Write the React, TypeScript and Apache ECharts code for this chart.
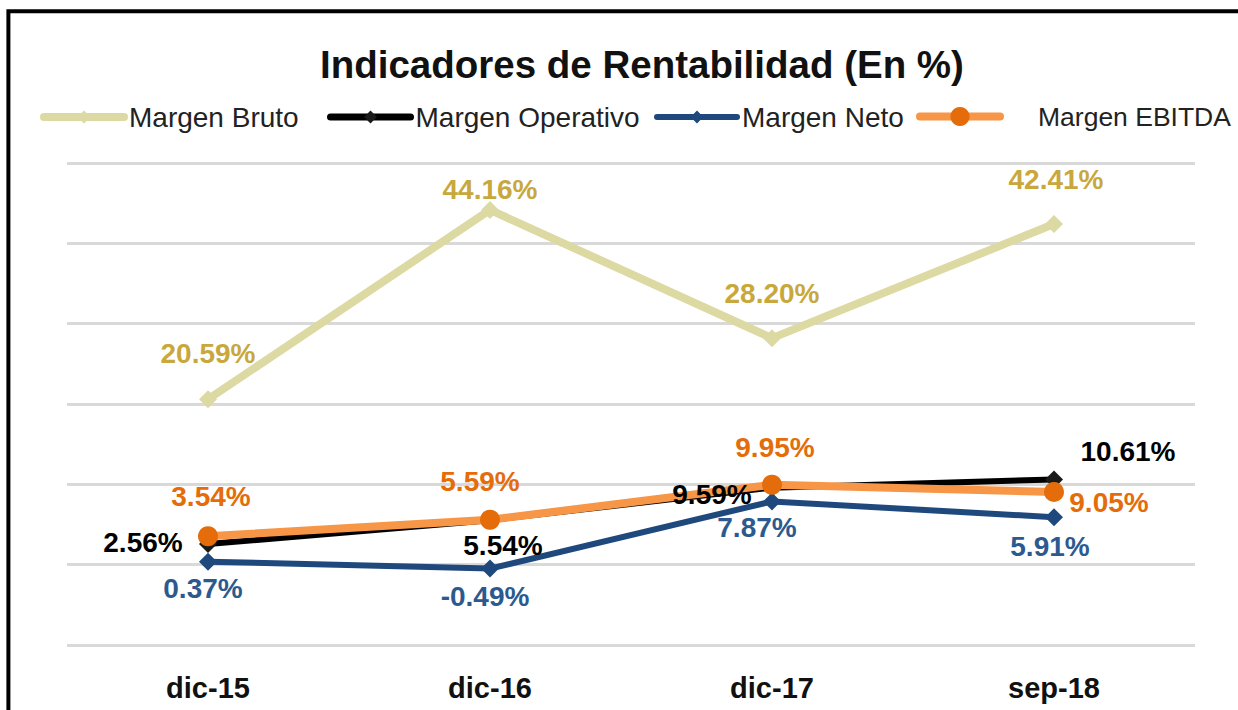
import React, { useEffect, useRef } from "react";
import * as echarts from "echarts";

const categories = ["dic-15", "dic-16", "dic-17", "sep-18"];
const margenBruto = [20.59, 44.16, 28.2, 42.41];
const margenOperativo = [2.56, 5.54, 9.59, 10.61];
const margenNeto = [0.37, -0.49, 7.87, 5.91];
const margenEbitda = [3.54, 5.59, 9.95, 9.05];

const brutoOffsets = [[0, -46], [0, -20], [0, -45], [2, -44]];
const operativoOffsets = [[-65, -2], [13, 25], [-60, 7], [74, -28]];
const netoOffsets = [[-5, 27], [-5, 28], [-15, 26], [-4, 29]];
const ebitdaOffsets = [[3, -40], [-10, -38], [3, -37], [55, 11]];

const FONT = "'Liberation Sans', Arial, sans-serif";

function withLabels(values: number[], offsets: number[][], color: string) {
  return values.map((v, i) => ({
    value: v,
    label: {
      show: true,
      position: "inside",
      align: "center",
      verticalAlign: "middle",
      offset: offsets[i],
      formatter: (p: any) => p.value.toFixed(2) + "%",
      color,
      fontFamily: FONT,
      fontWeight: "bold",
      fontSize: 28,
    },
  }));
}

export default function App() {
  const ref = useRef<HTMLDivElement>(null);
  useEffect(() => {
    if (!ref.current) return;
    const chart = echarts.init(ref.current, undefined, { renderer: "svg" });
    const legendBase = {
      top: 98,
      itemWidth: 80,
      itemHeight: 16,
      textStyle: { fontFamily: FONT, fontSize: 28, color: "#222" },
      selectedMode: false,
    };
    chart.setOption({
      animation: false,
      backgroundColor: "#fff",
      title: {
        text: "Indicadores de Rentabilidad (En %)",
        left: 315,
        top: 40,
        textStyle: { fontFamily: FONT, fontWeight: "bold", fontSize: 38.5, color: "#111" },
      },
      legend: [
        {
          ...legendBase,
          left: 35,
          data: ["Margen Bruto"],
          lineStyle: { width: 8, cap: "round" },
        },
        {
          ...legendBase,
          left: 322,
          data: ["Margen Operativo"],
          lineStyle: { width: 7, cap: "round" },
        },
        {
          ...legendBase,
          left: 649,
          data: ["Margen Neto"],
          lineStyle: { width: 6, cap: "round" },
        },
        {
          ...legendBase,
          itemHeight: 24,
          left: 911,
          data: ["Margen EBITDA"],
          lineStyle: { width: 8, cap: "round" },
          textStyle: { ...legendBase.textStyle, fontSize: 26.5, padding: [0, 0, 0, 33] },
        },
      ],
      grid: { left: 67, right: 43, top: 163, bottom: 65 },
      xAxis: {
        type: "category",
        data: categories,
        boundaryGap: true,
        axisLine: { show: false },
        axisTick: { show: false },
        axisLabel: { fontFamily: FONT, fontWeight: "bold", fontSize: 29, color: "#111", margin: 28 },
      },
      yAxis: {
        type: "value",
        min: -10,
        max: 50,
        interval: 10,
        axisLabel: { show: false },
        axisLine: { show: false },
        axisTick: { show: false },
        splitLine: { lineStyle: { color: "#D9D9D9", width: 3 } },
      },
      graphic: [
        {
          type: "rect",
          shape: { x: 8.4, y: 11.2, width: 1400, height: 900 },
          style: { fill: "none", stroke: "#000", lineWidth: 4 },
          silent: true,
        },
      ],
      series: [
        {
          name: "Margen Bruto",
          type: "line",
          data: withLabels(margenBruto, brutoOffsets, "#C8A83C"),
          symbol: "diamond",
          symbolSize: 18,
          lineStyle: { color: "#DDD9A3", width: 8 },
          itemStyle: { color: "#DDD9A3" },
          z: 2,
        },
        {
          name: "Margen Operativo",
          type: "line",
          data: margenOperativo,
          symbol: "diamond",
          symbolSize: 18,
          lineStyle: { color: "#000", width: 6 },
          itemStyle: { color: "#1a1a1a" },
          z: 3,
        },
        {
          name: "Margen Neto",
          type: "line",
          data: withLabels(margenNeto, netoOffsets, "#2C5A8F"),
          symbol: "diamond",
          symbolSize: 18,
          lineStyle: { color: "#1F497D", width: 6 },
          itemStyle: { color: "#1F497D" },
          z: 4,
        },
        {
          name: "Margen EBITDA",
          type: "line",
          data: withLabels(margenEbitda, ebitdaOffsets, "#E46C0A"),
          symbol: "circle",
          symbolSize: 20,
          lineStyle: { color: "#F79646", width: 8 },
          itemStyle: { color: "#E46C0A" },
          z: 5,
        },
        {
          name: "Margen Operativo (etiquetas)",
          type: "line",
          data: withLabels(margenOperativo, operativoOffsets, "#000"),
          symbol: "circle",
          symbolSize: 1,
          lineStyle: { width: 0, opacity: 0 },
          itemStyle: { color: "rgba(0,0,0,0)" },
          silent: true,
          z: 10,
        },
      ],
    });
    return () => chart.dispose();
  }, []);
  return (
    <div
      ref={ref}
      style={{ position: "absolute", left: 0, top: 0, width: 1238, height: 710 }}
    />
  );
}
